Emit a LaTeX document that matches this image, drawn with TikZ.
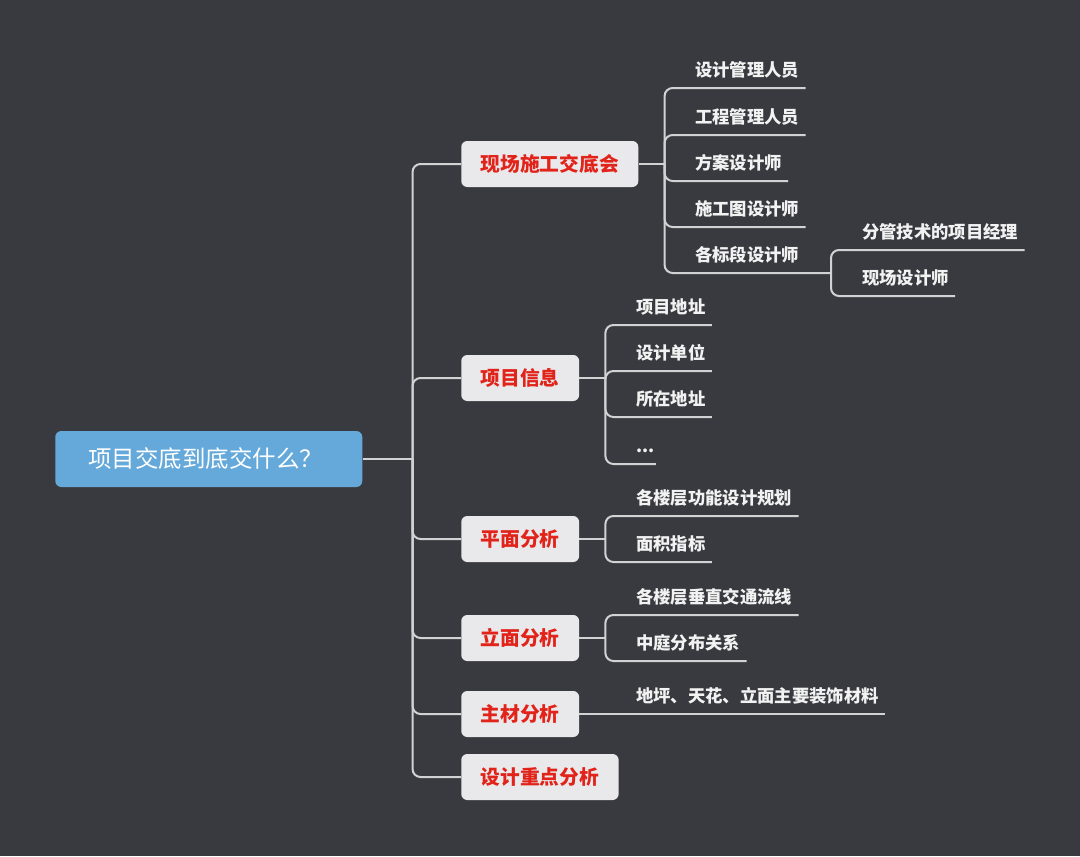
\documentclass[tikz,border=0pt]{standalone}
\usepackage{fontspec}
\setmainfont{Noto Sans CJK SC}
\usepackage{tikz}
\usetikzlibrary{positioning, calc}

\definecolor{bgdark}{HTML}{393A3F}
\definecolor{rootblue}{HTML}{65A9DB}
\definecolor{topicgray}{HTML}{E9E9EB}
\definecolor{topicred}{HTML}{E2231A}
\definecolor{linegray}{HTML}{D2D2D5}
\definecolor{leafwhite}{HTML}{F2F2F2}

\begin{document}
\begin{tikzpicture}[x=0.75pt, y=-0.75pt,
  rootbox/.style={fill=rootblue, rounded corners=4.5pt, inner xsep=24.75pt, text width=180.75pt, align=left, minimum height=42pt, text=white, font=\fontsize{17.6}{20}\selectfont, anchor=west},
  topic/.style={fill=topicgray, rounded corners=4.5pt, minimum height=34.5pt, inner xsep=14.6pt, text=topicred, font=\fontsize{14.8}{18}\selectfont\bfseries, anchor=west},
  leaf/.style={inner sep=0pt, text height=11.5pt, text depth=8.5pt, anchor=south west, text=leafwhite, font=\fontsize{13}{16}\selectfont\bfseries},
  link/.style={draw=linegray, line width=1.5pt, rounded corners=6pt}
]

% ── Background ──
\fill[bgdark] (0,0) rectangle (1080,856);
\useasboundingbox (0,0) rectangle (1080,856);

% ── Root ──
\node[rootbox] (root) at (55,459) {项目交底到底交什么？};

% ── Main topics ──
\node[topic] (jiaodi) at (461,164) {现场施工交底会};
\node[topic] (xinxi) at (461,378) {项目信息};
\node[topic] (pingmian) at (461,539) {平面分析};
\node[topic] (limian) at (461,638) {立面分析};
\node[topic] (zhucai) at (461,714) {主材分析};
\node[topic] (zhongdian) at (461,777) {设计重点分析};

% ── 现场施工交底会 leaves ──
\node[leaf] (ren1) at (695,88) {设计管理人员};
\node[leaf] (ren2) at (695,135) {工程管理人员};
\node[leaf] (ren3) at (695,181) {方案设计师};
\node[leaf] (ren4) at (695,227) {施工图设计师};
\node[leaf] (ren5) at (695,273) {各标段设计师};
\node[leaf] (sub1) at (862,250) {分管技术的项目经理};
\node[leaf] (sub2) at (862,296) {现场设计师};

% ── 项目信息 leaves ──
\node[leaf] (xx1) at (636,325) {项目地址};
\node[leaf] (xx2) at (636,371) {设计单位};
\node[leaf] (xx3) at (636,417) {所在地址};
\node[leaf] (xx4) at (636,464) {...};

% ── 平面 / 立面 / 主材 leaves ──
\node[leaf] (pm1) at (636,516) {各楼层功能设计规划};
\node[leaf] (pm2) at (636,562) {面积指标};
\node[leaf] (lm1) at (636,615) {各楼层垂直交通流线};
\node[leaf] (lm2) at (636,661) {中庭分布关系};
\node[leaf] (zc1) at (636,714) {地坪、天花、立面主要装饰材料};

% ═══ CONNECTORS ═══
% Root → topics
\draw[link] (root.east) -- ++(50,0) coordinate (hub);
\draw[link] (hub) |- (jiaodi.west);
\draw[link] (hub) |- (xinxi.west);
\draw[link] (hub) |- (pingmian.west);
\draw[link] (hub) |- (limian.west);
\draw[link] (hub) |- (zhucai.west);
\draw[link] (hub) |- (zhongdian.west);

% 现场施工交底会 → people
\draw[link] (jiaodi.east) -- ++(26,0) coordinate (j1);
\draw[link] (j1) |- (ren1.south west) -- ($(ren1.south east)+(6,0)$);
\draw[link] (j1) |- (ren2.south west) -- ($(ren2.south east)+(6,0)$);
\draw[link] (j1) |- (ren3.south west) -- ($(ren3.south east)+(6,0)$);
\draw[link] (j1) |- (ren4.south west) -- ($(ren4.south east)+(6,0)$);
\draw[link] (j1) |- (ren5.south west) -- ($(ren5.south west)+(136,0)$) coordinate (j5);
\draw[link] (j5) |- (sub1.south west) -- ($(sub1.south east)+(6,0)$);
\draw[link] (j5) |- (sub2.south west) -- ($(sub2.south east)+(6,0)$);

% 项目信息 → items
\draw[link] (xinxi.east) -- ++(26,0) coordinate (j2);
\draw[link] (j2) |- (xx1.south west) -- ($(xx1.south east)+(6,0)$);
\draw[link] (j2) |- (xx2.south west) -- ($(xx2.south east)+(6,0)$);
\draw[link] (j2) |- (xx3.south west) -- ($(xx3.south east)+(6,0)$);
\draw[link] (j2) |- (xx4.south west) -- ($(xx4.south east)+(1,0)$);

% 平面分析 / 立面分析
\draw[link] (pingmian.east) -- ++(26,0) coordinate (j3);
\draw[link] (j3) |- (pm1.south west) -- ($(pm1.south east)+(6,0)$);
\draw[link] (j3) |- (pm2.south west) -- ($(pm2.south east)+(6,0)$);
\draw[link] (limian.east) -- ++(26,0) coordinate (j4);
\draw[link] (j4) |- (lm1.south west) -- ($(lm1.south east)+(6,0)$);
\draw[link] (j4) |- (lm2.south west) -- ($(lm2.south east)+(6,0)$);

% 主材分析
\draw[link] (zhucai.east) -- ($(zc1.south east)+(6,0)$);

\end{tikzpicture}
\end{document}
